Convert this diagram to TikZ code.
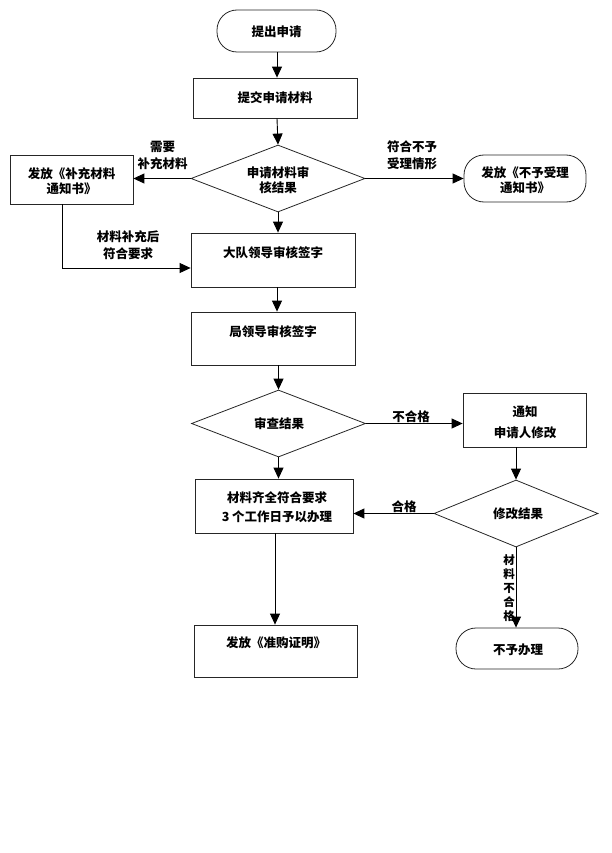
\documentclass[tikz,border=0pt]{standalone}
\usepackage{fontspec}
\newfontfamily\cjk{Noto Sans CJK SC}
\usetikzlibrary{shapes.geometric,arrows.meta}
\begin{document}
\begin{tikzpicture}[x=1pt,y=-1pt,
  txt/.style={font=\cjk\bfseries\fontsize{12.5}{15}\selectfont, align=center, inner sep=0pt, text=black},
  vtxt/.style={font=\cjk\bfseries\fontsize{11.5}{14}\selectfont, align=center, inner sep=0pt, text=black},
  box/.style={draw=black!85, line width=0.8pt, rectangle, inner sep=0pt},
  term/.style={draw=black!85, line width=0.8pt, rectangle, rounded corners=20pt, inner sep=0pt},
  dia/.style={draw=black!85, line width=0.8pt, diamond, inner sep=0pt},
  arr/.style={draw=black, line width=0.9pt, -{Triangle[length=11pt,width=10pt]}}
]
\useasboundingbox (0,0) rectangle (612,853);

% nodes
\node[term, minimum width=119pt, minimum height=42pt] (start) at (276.5,31) {};
\node[txt] (startT) at (276.5,32) {提出申请};

\node[box, minimum width=164pt, minimum height=40pt] (submit) at (275,98) {};
\node[txt] (submitT) at (275,98) {提交申请材料};

\node[dia, minimum width=174pt, minimum height=67pt] (d1) at (278,178.5) {};
\node[txt] (d1T) at (278,180) {申请材料审\\核结果};

\node[box, minimum width=123pt, minimum height=49pt] (supp) at (71.5,179.5) {};
\node[txt] (suppT) at (71.5,181) {发放《补充材料\\通知书》};

\node[term, minimum width=122pt, minimum height=47pt] (reject) at (525,178.5) {};
\node[txt] (rejectT) at (525,180) {发放《不予受理\\通知书》};

\node[box, minimum width=164pt, minimum height=54pt] (team) at (273,260) {};
\node[txt] (teamT) at (273,253) {大队领导审核签字};

\node[box, minimum width=164pt, minimum height=53pt] (bureau) at (273,338.5) {};
\node[txt] (bureauT) at (273,332) {局领导审核签字};

\node[dia, minimum width=174pt, minimum height=67pt] (d2) at (278.5,423.5) {};
\node[txt] (d2T) at (279,424) {审查结果};

\node[box, minimum width=123pt, minimum height=54pt] (notify) at (524.5,420) {};
\node[txt] (notifyT) at (525,422.5) {通知\\[6pt]申请人修改};

\node[dia, minimum width=164pt, minimum height=67pt] (d3) at (516,513.5) {};
\node[txt] (d3T) at (518,513.5) {修改结果};

\node[box, minimum width=158pt, minimum height=54pt] (ok) at (274,506) {};
\node[txt] (okT) at (277,507.5) {材料齐全符合要求\\[4pt]3 个工作日予以办理};

\node[box, minimum width=163pt, minimum height=52pt] (cert) at (275.5,651) {};
\node[txt] (certT) at (276,643) {发放《准购证明》};

\node[term, minimum width=122pt, minimum height=41pt] (no) at (517,648.5) {};
\node[txt] (noT) at (518,650) {不予办理};

% labels
\node[txt] (l1) at (162.5,155.5) {需要\\[2pt]补充材料};
\node[txt] (l2) at (412,155.5) {符合不予\\[2pt]受理情形};
\node[txt] (l3) at (128,245.5) {材料补充后\\[2pt]符合要求};
\node[txt] (l4) at (411,416.5) {不合格};
\node[txt] (l5) at (404,506.5) {合格};
\node[vtxt] (l6) at (509,588) {材\\料\\不\\合\\格};

% connectors
\coordinate (cx) at (277,0);
\draw[arr] (start.south -| cx) -- (submit.north -| cx);
\draw[arr] (submit.south -| cx) -- (d1.north);
\draw[arr] (d1.west) -- (d1.west -| supp.east);
\draw[arr] (d1.east) -- (d1.east -| reject.west);
\draw[arr] (d1.south) -- (d1.south |- team.north);
\coordinate (bend) at (62.5,268);
\draw[arr] (supp.south -| bend) -- (bend) -- (bend -| team.west);
\draw[arr] (team.south -| cx) -- (bureau.north -| cx);
\draw[arr] (bureau.south -| d2.north) -- (d2.north);
\draw[arr] (d2.east) -- (d2.east -| notify.west);
\draw[arr] (d2.south) -- (d2.south |- ok.north);
\draw[arr] (notify.south -| d3.north) -- (d3.north);
\draw[arr] (d3.west) -- (d3.west -| ok.east);
\coordinate (cx2) at (275,0);
\draw[arr] (ok.south -| cx2) -- (cert.north -| cx2);
\draw[arr] (d3.south) -- (d3.south |- no.north);
\end{tikzpicture}
\end{document}
